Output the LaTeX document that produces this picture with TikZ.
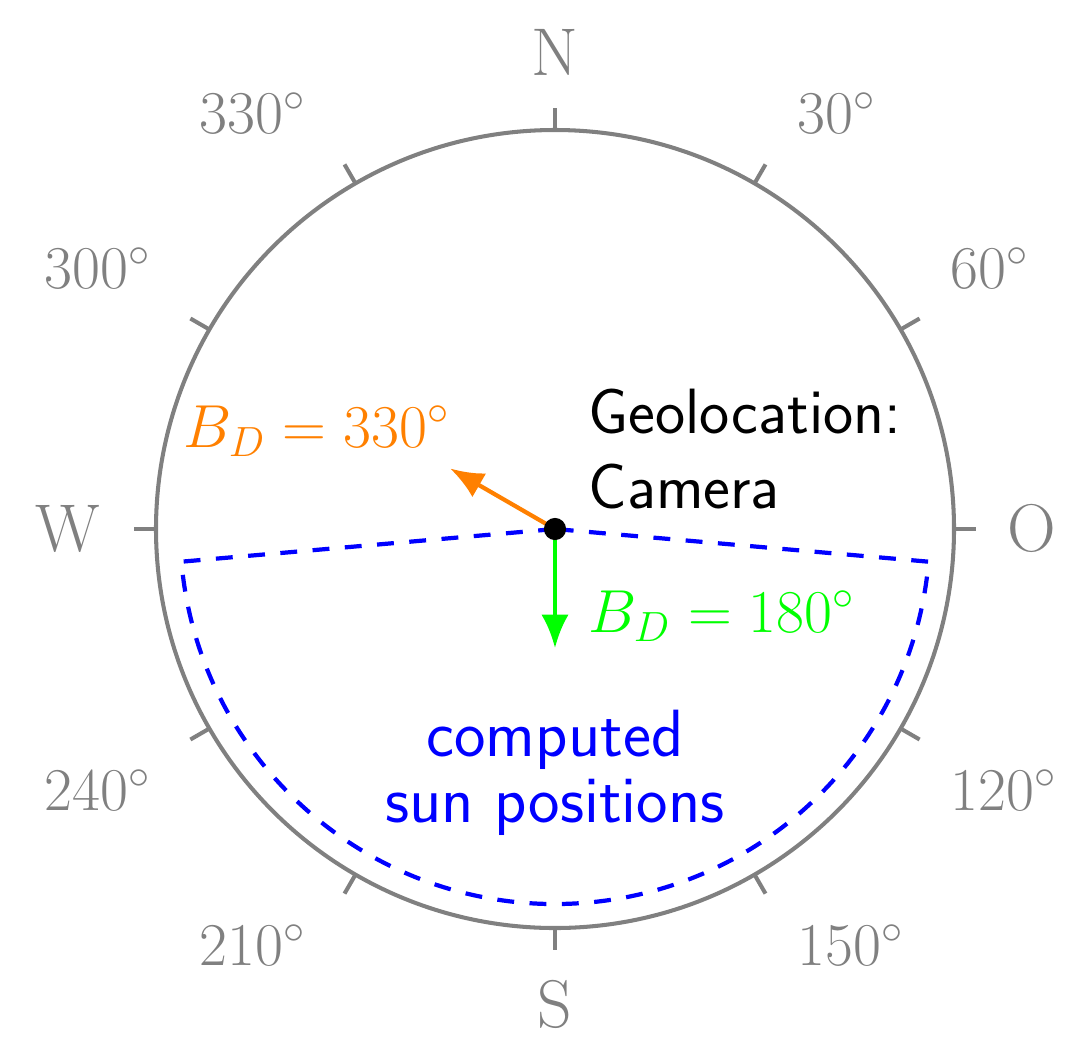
\documentclass[tikz,border=0pt]{standalone}
\usetikzlibrary{arrows.meta}
\begin{document}
\begin{tikzpicture}[x=0.01cm,y=0.01cm,
  rim/.style={draw=gray,line width=1.15pt},
  tickmark/.style={draw=gray,line width=1.15pt},
  dirlabel/.style={text=gray,font=\fontsize{19.2}{23}\selectfont,inner sep=0pt},
  deglabel/.style={text=gray,font=\LARGE,inner sep=0pt},
  bearing/.style={line width=1.2pt,-{Latex[length=9.5pt,width=7.8pt]}},
  mathlabel/.style={font=\LARGE,inner sep=0pt,anchor=base west},
  sunpath/.style={draw=blue,line width=1.2pt,dash pattern=on 4.8pt off 4.4pt},
  dot/.style={circle,fill=black,inner sep=0pt,minimum size=6.3pt}
]
\useasboundingbox (-555,-522) rectangle (525,529);
% compass rim and ticks
\draw[rim] (0,0) circle (399);
\foreach \a in {0,30,...,330} \draw[tickmark] (\a:400) -- (\a:421);
% cardinal labels
\node[dirlabel] (north) at (0,477) {N};
\node[dirlabel] (east) at (477,1) {O};
\node[dirlabel] (west) at (-487,0) {W};
\node[dirlabel] (south) at (0,-475) {S};
% degree labels
\node[deglabel,anchor=east] (d330) at (-248,416) {$330^\circ$};
\node[deglabel,anchor=west] (d30) at (242,416) {$30^\circ$};
\node[deglabel,anchor=east] (d300) at (-403,261) {$300^\circ$};
\node[deglabel,anchor=west] (d60) at (395,261) {$60^\circ$};
\node[deglabel,anchor=east] (d240) at (-403,-261) {$240^\circ$};
\node[deglabel,anchor=west] (d120) at (395,-261) {$120^\circ$};
\node[deglabel,anchor=east] (d210) at (-248,-416) {$210^\circ$};
\node[deglabel,anchor=west] (d150) at (242,-416) {$150^\circ$};
% camera position
\coordinate (c) at (0,0);
\coordinate (left) at (185:375);
\coordinate (orangetip) at (150:121);
\coordinate (greentip) at (270:119);
\draw[sunpath] (c) -- (left) arc[start angle=185,end angle=355,radius=375] -- cycle;
\draw[bearing,orange] (c) -- (orangetip);
\draw[bearing,green] (c) -- (greentip);
\node[dot] (cam) at (c) {};
% texts
\node[mathlabel,text=orange] (bd330) at (-372,82) {$B_D = 330^\circ$};
\node[mathlabel,text=green] (bd180) at (33,-103) {$B_D = 180^\circ$};
\node[inner sep=0pt,anchor=base west,align=left,font=\sffamily\fontsize{18.2}{21.3}\selectfont] (geo) at (33,21) {Geolocation:\\Camera};
\node[inner sep=0pt,anchor=base,align=center,text=blue,font=\sffamily\fontsize{19}{18.5}\selectfont] (sun) at (0,-293) {computed\\sun positions};
\end{tikzpicture}
\end{document}
